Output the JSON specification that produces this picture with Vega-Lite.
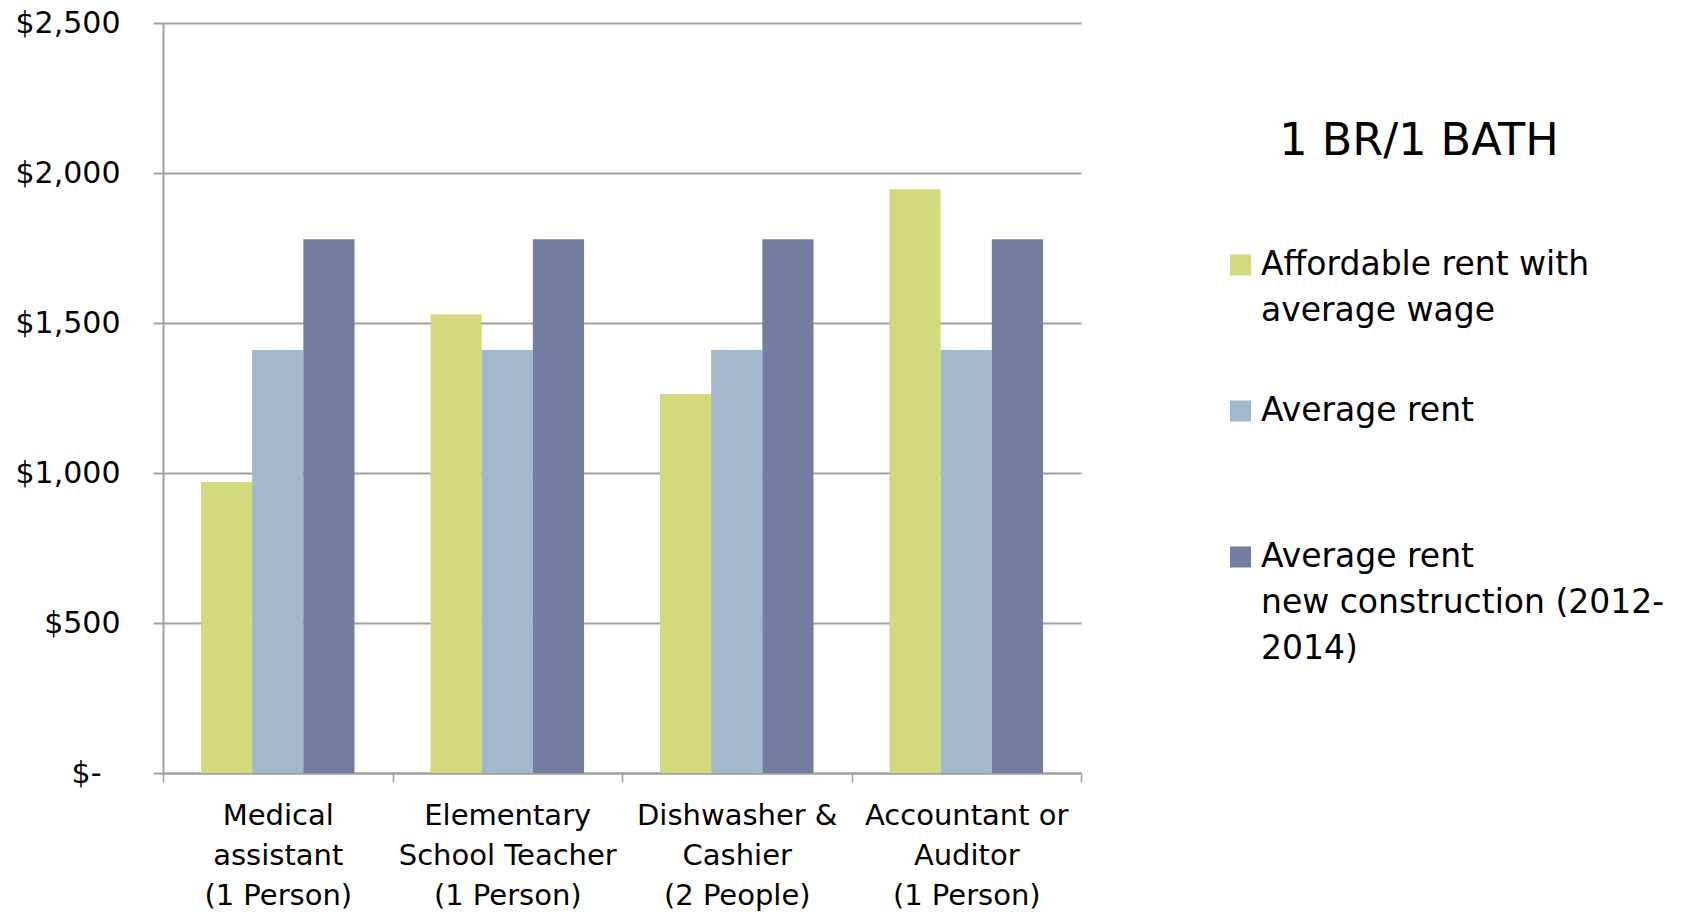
{
  "$schema": "https://vega.github.io/schema/vega-lite/v6.json",
  "width": 918,
  "height": 750,
  "autosize": "none",
  "padding": {"left": 163, "top": 23, "right": 602, "bottom": 142},
  "background": "white",
  "config": {
    "font": "DejaVu Sans",
    "view": {"stroke": null},
    "style": {"guide-label": {"lineHeight": 46}}
  },
  "data": {
    "values": [
      {"job": "Medical|assistant|(1 Person)", "series": "Affordable rent with|average wage", "rent": 970},
      {"job": "Medical|assistant|(1 Person)", "series": "Average rent", "rent": 1410},
      {"job": "Medical|assistant|(1 Person)", "series": "Average rent|new construction (2012-|2014)", "rent": 1779},
      {"job": "Elementary|School Teacher|(1 Person)", "series": "Affordable rent with|average wage", "rent": 1529},
      {"job": "Elementary|School Teacher|(1 Person)", "series": "Average rent", "rent": 1410},
      {"job": "Elementary|School Teacher|(1 Person)", "series": "Average rent|new construction (2012-|2014)", "rent": 1779},
      {"job": "Dishwasher &|Cashier|(2 People)", "series": "Affordable rent with|average wage", "rent": 1263},
      {"job": "Dishwasher &|Cashier|(2 People)", "series": "Average rent", "rent": 1410},
      {"job": "Dishwasher &|Cashier|(2 People)", "series": "Average rent|new construction (2012-|2014)", "rent": 1779},
      {"job": "Accountant or|Auditor|(1 Person)", "series": "Affordable rent with|average wage", "rent": 1946},
      {"job": "Accountant or|Auditor|(1 Person)", "series": "Average rent", "rent": 1410},
      {"job": "Accountant or|Auditor|(1 Person)", "series": "Average rent|new construction (2012-|2014)", "rent": 1779}
    ]
  },
  "mark": {"type": "bar"},
  "encoding": {
    "x": {
      "field": "job",
      "type": "nominal",
      "sort": null,
      "scale": {"paddingInner": 0, "paddingOuter": 0},
      "axis": {
        "title": null,
        "labelAngle": 0,
        "labelExpr": "split(datum.label, '|')",
        "labelFontSize": 29,
        "labelLineHeight": 40,
        "labelColor": "#000000",
        "labelBaseline": "top",
        "labelPadding": 19,
        "labelLimit": 400,
        "tickBand": "extent",
        "tickSize": 9,
        "tickWidth": 1.5,
        "tickColor": "#a0a0a0",
        "domainColor": "#a0a0a0",
        "domainWidth": 2,
        "grid": false
      }
    },
    "xOffset": {"field": "series", "type": "nominal", "sort": null, "scale": {"paddingInner": 0, "paddingOuter": 0.742}},
    "y": {
      "field": "rent",
      "type": "quantitative",
      "scale": {"domain": [0, 2500], "nice": false},
      "axis": {
        "title": null,
        "values": [0, 500, 1000, 1500, 2000, 2500],
        "labelExpr": "datum.value == 0 ? '$-' : '$' + format(datum.value, ',')",
        "labelFontSize": 30,
        "labelColor": "#000000",
        "labelPadding": {"condition": {"test": "datum.value == 0", "value": 52}, "value": 33},
        "tickSize": 10,
        "tickWidth": 2,
        "tickColor": "#a0a0a0",
        "domainColor": "#a0a0a0",
        "domainWidth": 2,
        "grid": true,
        "gridColor": "#a0a0a0",
        "gridWidth": 2
      }
    },
    "color": {
      "field": "series",
      "type": "nominal",
      "sort": null,
      "scale": {
        "domain": ["Affordable rent with|average wage", "Average rent", "Average rent|new construction (2012-|2014)"],
        "range": ["#d3da7b", "#a1b7cd", "#737ca1"]
      },
      "legend": {
        "title": "1 BR/1 BATH",
        "orient": "none",
        "legendX": 1061,
        "legendY": 97,
        "columns": 1,
        "gridAlign": "all",
        "titleFontSize": 44.5,
        "titleFontWeight": "normal",
        "titleColor": "#000000",
        "titleAnchor": "middle",
        "titleLimit": 800,
        "titlePadding": 84,
        "labelExpr": "split(datum.label, '|')",
        "labelFontSize": 33,
        "labelColor": "#000000",
        "labelBaseline": "alphabetic",
        "labelLimit": 600,
        "labelOffset": 4,
        "symbolType": "square",
        "symbolSize": 441,
        "symbolStrokeWidth": 0,
        "rowPadding": 20,
        "encode": {
          "labels": {"update": {"dy": {"value": 10}}},
          "title": {"update": {"dx": {"value": -25}}}
        }
      }
    }
  }
}
